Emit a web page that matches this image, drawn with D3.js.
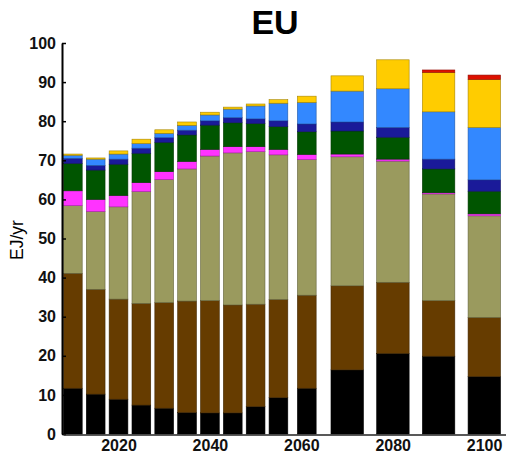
<!DOCTYPE html>
<html>
<head>
<meta charset="utf-8">
<script src="https://cdn.jsdelivr.net/npm/d3@7"></script>
<style>
  html, body { margin: 0; padding: 0; background: #fff; }
  svg { display: block; }
</style>
</head>
<body>
<svg id="chart" width="506" height="458"></svg>
<script>
// ---- data ----
const years   = [2010, 2015, 2020, 2025, 2030, 2035, 2040, 2045, 2050, 2055, 2060, 2070, 2080, 2090, 2100];
const coal    = [11.7, 10.2, 8.9, 7.4, 6.6, 5.5, 5.4, 5.4, 7.0, 9.3, 11.7, 16.4, 20.6, 19.9, 14.7];
const oil     = [29.4, 26.8, 25.6, 26.0, 27.0, 28.5, 28.7, 27.6, 26.2, 25.1, 23.8, 21.5, 18.2, 14.2, 15.1];
const gas     = [17.3, 19.9, 23.6, 28.6, 31.5, 33.8, 37.0, 38.9, 39.0, 37.0, 34.7, 33.0, 31.0, 27.3, 26.0];
const nuclear = [3.8, 3.1, 2.9, 2.3, 2.0, 1.9, 1.7, 1.6, 1.3, 1.4, 1.3, 0.7, 0.5, 0.3, 0.5];
const biomass = [7.0, 7.5, 8.0, 7.5, 7.5, 6.8, 6.2, 6.1, 5.9, 5.8, 5.8, 5.9, 5.6, 6.1, 5.8];
const hydro   = [1.3, 1.2, 1.3, 1.3, 1.2, 1.2, 1.1, 1.3, 1.2, 1.5, 2.0, 2.3, 2.5, 2.5, 2.9];
const wind    = [0.8, 1.6, 1.3, 1.2, 1.1, 1.25, 1.5, 2.2, 3.3, 4.5, 5.5, 7.9, 9.9, 12.1, 13.4];
const solar   = [0.3, 0.3, 0.8, 1.1, 0.9, 0.85, 0.7, 0.5, 0.5, 0.9, 1.6, 3.9, 7.4, 10.1, 12.3];
const other   = [0, 0, 0, 0, 0, 0, 0, 0, 0, 0, 0, 0, 0, 0.6, 1.1];

const seriesNames  = ["coal", "oil", "gas", "nuclear", "biomass", "hydro", "wind", "solar", "other"];
const seriesValues = [coal, oil, gas, nuclear, biomass, hydro, wind, solar, other];
const seriesColors = ["#000000", "#663c00", "#9a9a5e", "#ff33ff", "#005500", "#1a1a99", "#3388ff", "#ffcc00", "#dd1100"];

const yTicks = [0, 10, 20, 30, 40, 50, 60, 70, 80, 90, 100];
const xTicks = [2020, 2040, 2060, 2080, 2100];
const title = "EU";
const yLabel = "EJ/yr";

// ---- build table ----
const table = years.map((yr, i) => {
  const row = { year: yr };
  seriesNames.forEach((n, k) => row[n] = seriesValues[k][i]);
  return row;
});
const stacked = d3.stack().keys(seriesNames)(table);

// ---- layout ----
const svg = d3.select("#chart");
const x = d3.scaleLinear().domain([2007.85, 2104.8]).range([63, 506]);
const y = d3.scaleLinear().domain([0, 100]).range([434, 43]);

// bar geometry in years
function barExtent(i) {
  const yr = years[i];
  const before = i > 0 ? yr - years[i - 1] : null;
  const after = i < years.length - 1 ? years[i + 1] - yr : null;
  const gB = before ?? after, gA = after ?? before;
  const g = Math.min(gB, gA);
  const w = g <= 5 ? 4.1 : 7.1;
  const shift = gA !== gB ? (gA - gB) * 0.24 : (g > 5 ? 0.05 : 0);
  const c = yr + shift;
  return [c - w / 2, c + w / 2];
}

// bars
const layers = svg.append("g").selectAll("g")
  .data(stacked).join("g")
  .attr("fill", (d, k) => seriesColors[k])
  .attr("stroke", (d, k) => d3.color(seriesColors[k]).darker(1.2).formatHex())
  .attr("stroke-width", 0.6);

layers.selectAll("rect")
  .data(d => d.map((s, i) => ({ s, i })))
  .join("rect")
  .filter(d => d.s[1] - d.s[0] > 0)
  .attr("x", d => x(barExtent(d.i)[0]))
  .attr("width", d => x(barExtent(d.i)[1]) - x(barExtent(d.i)[0]))
  .attr("y", d => y(d.s[1]))
  .attr("height", d => y(d.s[0]) - y(d.s[1]));

// y axis
const yAxis = d3.axisLeft(y).tickValues(yTicks).tickSizeInner(-4).tickSizeOuter(0).tickPadding(6);
const gy = svg.append("g").attr("transform", "translate(62,0)").call(yAxis);
gy.select(".domain").attr("stroke", "#000").attr("stroke-width", 2);
gy.selectAll(".tick line").attr("stroke", "#000").attr("stroke-width", 1.5);
gy.selectAll(".tick text")
  .attr("font-family", "'Liberation Sans', Arial, sans-serif")
  .attr("font-weight", "bold").attr("font-size", 16).attr("fill", "#111");

// x axis
const xAxis = d3.axisBottom(x).tickValues(xTicks).tickFormat(d3.format("d")).tickSize(0).tickPadding(5);
const gx = svg.append("g").attr("transform", "translate(0,434.5)").call(xAxis);
gx.select(".domain").attr("stroke", "#222").attr("stroke-width", 1.5);
gx.selectAll(".tick text")
  .attr("font-family", "'Liberation Sans', Arial, sans-serif")
  .attr("font-weight", "bold").attr("font-size", 16).attr("fill", "#111");

// title
svg.append("text").attr("x", 275).attr("y", 34).attr("text-anchor", "middle")
  .attr("font-family", "'Liberation Sans', Arial, sans-serif")
  .attr("font-weight", "bold").attr("font-size", 34).attr("fill", "#000").text(title);

// y label
svg.append("text")
  .attr("transform", "translate(23,240) rotate(-90)")
  .attr("text-anchor", "middle")
  .attr("font-family", "'Liberation Sans', Arial, sans-serif")
  .attr("font-size", 17.5).attr("fill", "#000").text(yLabel);
</script>
</body>
</html>
